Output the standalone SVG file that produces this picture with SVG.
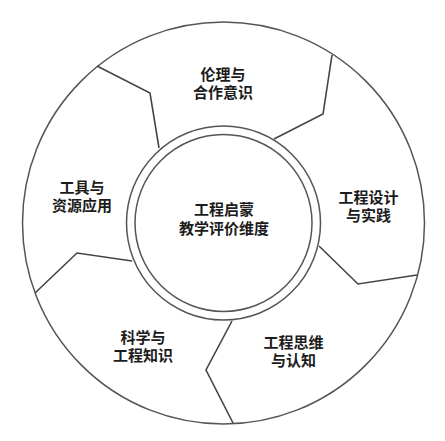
<svg xmlns="http://www.w3.org/2000/svg" width="445" height="441" viewBox="0 0 445 441">
  <style>
    .ring { fill: none; stroke: #555; stroke-width: 1.5; }
    .div { fill: none; stroke: #444; stroke-width: 1.6; stroke-linejoin: miter; }
    .lbl { font-family: "Liberation Sans", "Noto Sans CJK SC", sans-serif; font-size: 15px; font-weight: bold; fill: #1c1c1c; text-anchor: middle; }
  </style>
  <rect width="445" height="441" fill="#ffffff"/>
  <g id="outer-ring">
    <circle class="ring" cx="223.5" cy="223" r="201"/>
  </g>
  <g id="connectors">
    <polyline class="div" points="97,66 150,93 159,148"/>
    <polyline class="div" points="332,55 323,114 274,139"/>
    <polyline class="div" points="319,246 358,284 417,275"/>
    <polyline class="div" points="232,321 206,370 233,423"/>
    <polyline class="div" points="132,261 77,253 35,293"/>
  </g>
  <g id="center">
    <circle class="ring" cx="223.5" cy="223" r="97"/>
    <circle class="ring" cx="223.5" cy="223" r="88.5"/>
    <text class="lbl"><tspan x="224" y="215">工程启蒙</tspan><tspan x="224" y="234">教学评价维度</tspan></text>
  </g>
  <g id="ethics">
    <text class="lbl"><tspan x="223" y="80">伦理与</tspan><tspan x="223" y="98">合作意识</tspan></text>
  </g>
  <g id="design">
    <text class="lbl"><tspan x="368.5" y="203">工程设计</tspan><tspan x="368.5" y="221">与实践</tspan></text>
  </g>
  <g id="thinking">
    <text class="lbl"><tspan x="293.5" y="348">工程思维</tspan><tspan x="293.5" y="366">与认知</tspan></text>
  </g>
  <g id="science">
    <text class="lbl"><tspan x="143" y="343">科学与</tspan><tspan x="143" y="361">工程知识</tspan></text>
  </g>
  <g id="tools">
    <text class="lbl"><tspan x="82" y="193">工具与</tspan><tspan x="82" y="211">资源应用</tspan></text>
  </g>
</svg>
